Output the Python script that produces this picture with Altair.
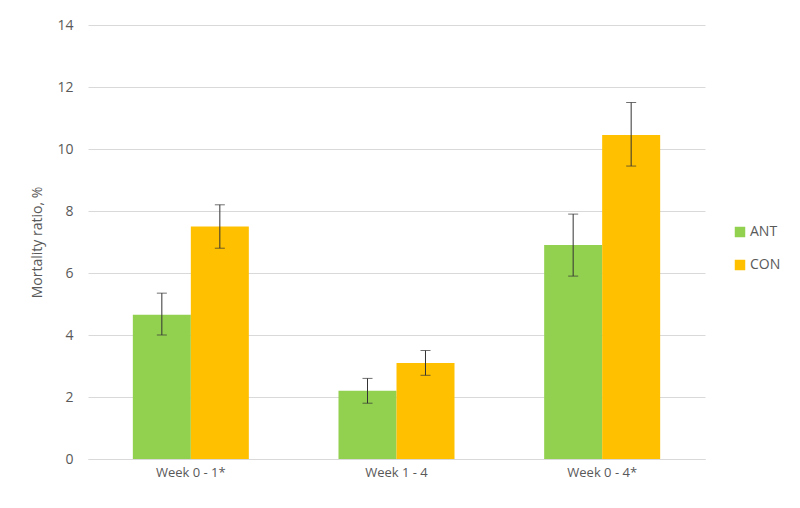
import altair as alt
import pandas as pd

periods = ["Week 0 - 1*", "Week 1 - 4", "Week 0 - 4*"]
groups = ["ANT", "CON"]
ant_vals = [4.65, 2.2, 6.9]
ant_low = [4.0, 1.8, 5.9]
ant_high = [5.35, 2.6, 7.9]
con_vals = [7.5, 3.1, 10.45]
con_low = [6.8, 2.7, 9.45]
con_high = [8.2, 3.5, 11.5]

rows = []
for i, p in enumerate(periods):
    rows.append({"period": p, "group": "ANT", "value": ant_vals[i], "low": ant_low[i], "high": ant_high[i]})
    rows.append({"period": p, "group": "CON", "value": con_vals[i], "low": con_low[i], "high": con_high[i]})
df = pd.DataFrame(rows)

FONT = "Open Sans"
GREY = "#595959"

x = alt.X("period:N", sort=periods, title=None,
          scale=alt.Scale(paddingInner=0, paddingOuter=0),
          axis=alt.Axis(labelAngle=0, labelFontSize=13, labelColor=GREY, labelFont=FONT,
                        ticks=False, domainColor="#d9d9d9", labelPadding=7))
xo = alt.XOffset("group:N", sort=groups, scale=alt.Scale(paddingOuter=0.773, paddingInner=0))
y = alt.Y("value:Q", title="Mortality ratio, %",
          scale=alt.Scale(domain=[0, 14]),
          axis=alt.Axis(values=[0, 2, 4, 6, 8, 10, 12, 14], grid=True, gridColor="#d9d9d9",
                        domain=False, ticks=False, labelFontSize=14, labelColor=GREY,
                        labelFont=FONT, labelPadding=15, titleFont=FONT, titleFontSize=14,
                        titleFontWeight="normal", titleColor=GREY, titlePadding=12))

bars = alt.Chart(df).mark_bar().encode(
    x=x, xOffset=xo, y=y,
    color=alt.Color("group:N", sort=groups,
                    scale=alt.Scale(domain=groups, range=["#92d050", "#ffc000"]),
                    legend=alt.Legend(title=None, orient="none", legendX=645, legendY=200,
                                      symbolType="square", symbolSize=110, symbolStrokeWidth=0,
                                      labelFontSize=14, labelColor=GREY, labelFont=FONT,
                                      rowPadding=19, symbolOffset=0, labelOffset=3))
)

rule = alt.Chart(df).mark_rule(color="#333333", strokeWidth=1).encode(
    x=alt.X("period:N", sort=periods), xOffset=alt.XOffset("group:N", sort=groups),
    y=alt.Y("low:Q"), y2="high:Q")
cap_lo = alt.Chart(df).mark_tick(color="#333333", thickness=1, size=10, orient="horizontal").encode(
    x=alt.X("period:N", sort=periods), xOffset=alt.XOffset("group:N", sort=groups),
    y=alt.Y("low:Q"))
cap_hi = alt.Chart(df).mark_tick(color="#333333", thickness=1, size=10, orient="horizontal").encode(
    x=alt.X("period:N", sort=periods), xOffset=alt.XOffset("group:N", sort=groups),
    y=alt.Y("high:Q"))

chart = alt.layer(bars, rule, cap_lo, cap_hi).properties(
    width=617, height=434,
    autosize=alt.AutoSizeParams(type="none"),
    padding={"left": 80, "top": 17, "right": 87, "bottom": 40},
    background="white",
).configure_view(stroke=None)

chart.save("out.html", embed_options={"renderer": "svg", "actions": False})
